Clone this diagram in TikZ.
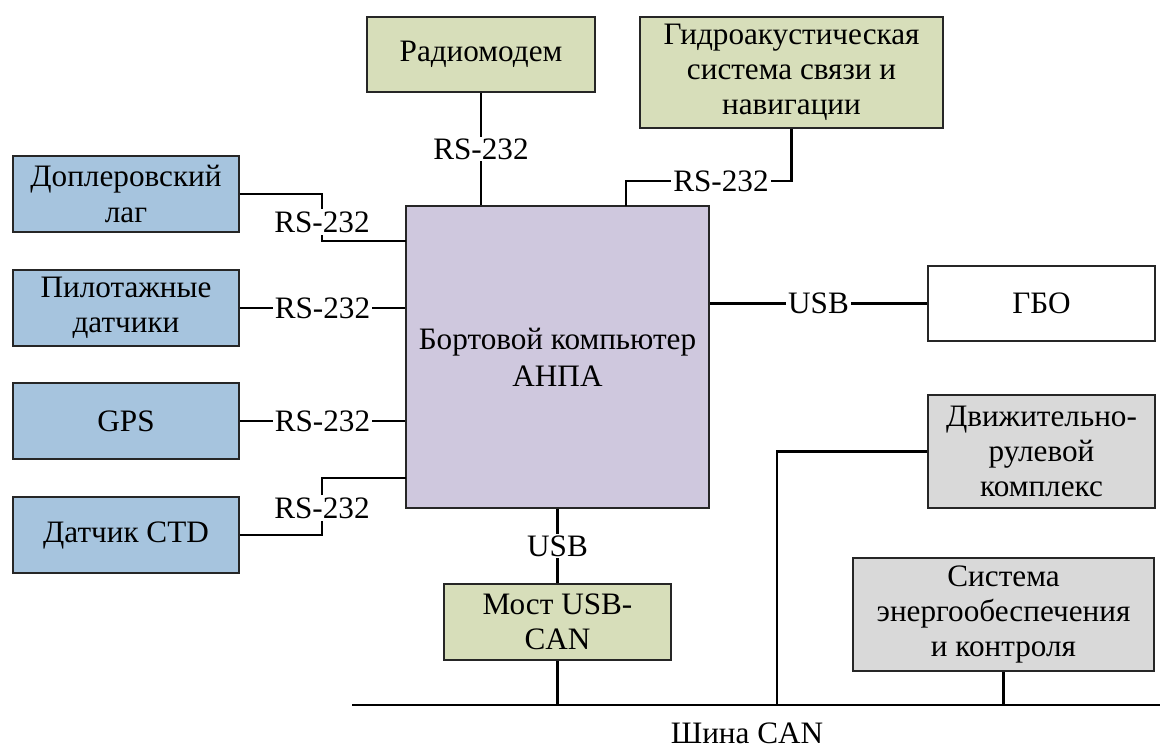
\documentclass[tikz,border=0pt]{standalone}
\usepackage{fontspec}
\setmainfont{Liberation Serif}
\usepackage{tikz}

\definecolor{sensblue}{RGB}{166,196,222}
\definecolor{commgreen}{RGB}{215,222,186}
\definecolor{pcviolet}{RGB}{207,200,222}
\definecolor{actgray}{RGB}{217,217,217}

\begin{document}
\begin{tikzpicture}[x=0.5pt,y=-0.5pt]
\tikzstyle{every node}=[font=\fontsize{15.6}{17.6}\selectfont]
\tikzstyle{blk}=[draw=black!85,line width=0.75pt,align=center,inner sep=0pt]
\tikzstyle{sens}=[blk,fill=sensblue,minimum width=113pt,minimum height=38pt]
\tikzstyle{comm}=[blk,fill=commgreen]
\tikzstyle{act}=[blk,fill=actgray,minimum height=56.5pt]
\tikzstyle{link}=[line width=1.15pt]
\tikzstyle{lbl}=[fill=white,inner sep=1pt]
\useasboundingbox (0,0) rectangle (1160,747);

% sensors
\node[sens] (dop) at (126,194) {Доплеровский\\лаг};
\node[sens] (pil) at (126,308) {Пилотажные\\датчики};
\node[sens] (gps) at (126,421) {GPS};
\node[sens] (ctd) at (126,535) {Датчик CTD};

% onboard computer
\node[blk,fill=pcviolet,minimum width=151.5pt,minimum height=151pt] (pc) at (557.5,357) {Бортовой компьютер\\[1pt]АНПА};

\node[comm,minimum width=114pt,minimum height=37.5pt] (radio) at (481,54.5) {Радиомодем};
\node[comm,minimum width=151.5pt,minimum height=55.5pt] (hydro) at (791.5,72.5) {Гидроакустическая\\система связи и\\навигации};
\node[blk,fill=white,minimum width=113.5pt,minimum height=37.5pt] (gbo) at (1041.5,303.5) {ГБО};
\node[act,minimum width=113.5pt] (drive) at (1041.5,451.5) {Движительно-\\рулевой\\комплекс};
\node[act,minimum width=150.5pt] (power) at (1003.5,614.5) {Система\\энергообеспечения\\и контроля};
\node[comm,minimum width=113.5pt,minimum height=38pt] (bridge) at (557.5,622) {Мост USB-\\CAN};

% CAN bus
\coordinate (busL) at (352,705);
\coordinate (busR) at (1160,705);
\draw[link] (busL) -- (busR);
\node (busname) at (747,733) {Шина CAN};

% links
\coordinate (pcA) at (406,241);
\coordinate (pcB) at (406,478);
\coordinate (pcC) at (626,206);
\coordinate (drvC) at (777,705);
\node[lbl] (rsA) at (322,222) {RS-232};
\node[lbl] (rsB) at (322,508) {RS-232};
\node[lbl] (rsC) at (721,181) {RS-232};

\draw[link] (dop.east) -| (rsA.north);
\draw[link] (rsA.south) |- (pcA);
\draw[link] (ctd.east) -| (rsB.south);
\draw[link] (rsB.north) |- (pcB);
\draw[link] (hydro.south) |- (rsC.east);
\draw[link] (rsC.west) -| (pcC);
\draw[link] (pil.east) -- (pil.east -| pc.west) node[midway,lbl] {RS-232};
\draw[link] (gps.east) -- (gps.east -| pc.west) node[midway,lbl] {RS-232};
\draw[link] (radio.south) -- (pc.north -| radio.south) node[midway,lbl] {RS-232};
\draw[link] (gbo.west) -- (gbo.west -| pc.east) node[midway,lbl] {USB};
\draw[link] (pc.south) -- (bridge.north) node[midway,lbl] {USB};
\draw[link] (bridge.south) -- (bridge.south |- busL);
\draw[link] (power.south) -- (power.south |- busL);
\draw[link] (drive.west) -| (drvC);
\end{tikzpicture}
\end{document}
